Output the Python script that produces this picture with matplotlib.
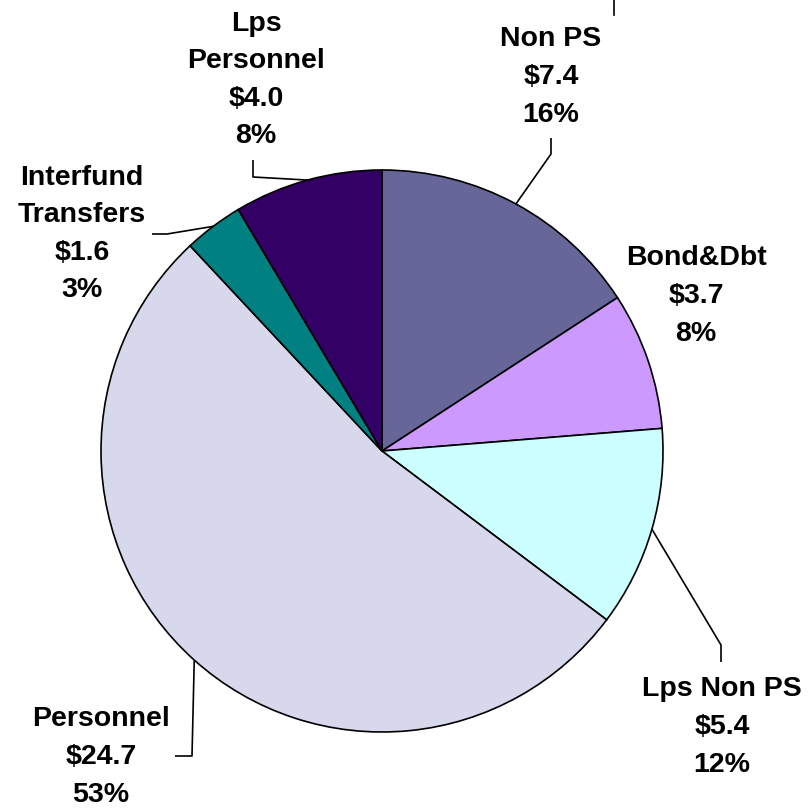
import numpy as np
import matplotlib
matplotlib.use("Agg")
import matplotlib.pyplot as plt

# slice data, clockwise from 12 o'clock
categories = ["Non PS", "Bond&Dbt", "Lps Non PS", "Personnel", "Interfund\nTransfers", "Lps\nPersonnel"]
amounts = [7.4, 3.7, 5.4, 24.7, 1.6, 4.0]
percents = [16, 8, 12, 53, 3, 8]
colors = ["#666699", "#CC99FF", "#CCFFFF", "#D8D8EC", "#008080", "#330066"]

W, H = 811, 808
CX, CY, R = 382, 451, 281


def py(y):
    # pixel row (from top) -> data y (from bottom)
    return H - y


# label centre (px) and leader elbow points (px) per slice
label_pos = [(551, 77), (696, 296), (722, 727), (101, 757), (82, 234), (256, 80)]
elbows = [
    [(551, 154), (551, 138)],
    [],
    [(721, 645), (721, 662)],
    [(192, 756), (175, 756)],
    [(167, 234), (152, 234)],
    [(253, 177), (253, 160)],
]

plt.rcParams["font.family"] = ["Liberation Sans", "DejaVu Sans"]

fig = plt.figure(figsize=(W / 100, H / 100), dpi=100)
ax = fig.add_axes([0, 0, 1, 1])

wedges, _ = ax.pie(
    amounts, colors=colors, startangle=90, counterclock=False,
    center=(CX, py(CY)), radius=R, frame=True,
    wedgeprops=dict(edgecolor="black", linewidth=1.2),
)
ax.set_xlim(0, W)
ax.set_ylim(0, H)
ax.set_aspect("equal")
ax.axis("off")

for w, cat, amt, pct, (lx, ly), elb in zip(wedges, categories, amounts, percents, label_pos, elbows):
    ax.text(lx, py(ly), f"{cat}\n${amt:.1f}\n{pct}%", ha="center", va="center",
            fontsize=20.5, fontweight="bold", linespacing=1.58, color="black")
    if elb:
        mid = np.deg2rad((w.theta1 + w.theta2) / 2)
        xs = [CX + R * np.cos(mid)] + [p[0] for p in elb]
        ys = [py(CY) + R * np.sin(mid)] + [py(p[1]) for p in elb]
        ax.plot(xs, ys, color="black", linewidth=1.2, solid_capstyle="butt")

# stray leader stub at top edge
ax.plot([614, 614], [py(0), py(15)], color="black", linewidth=1.2)

fig.savefig("out.png", dpi=100, facecolor="white")
